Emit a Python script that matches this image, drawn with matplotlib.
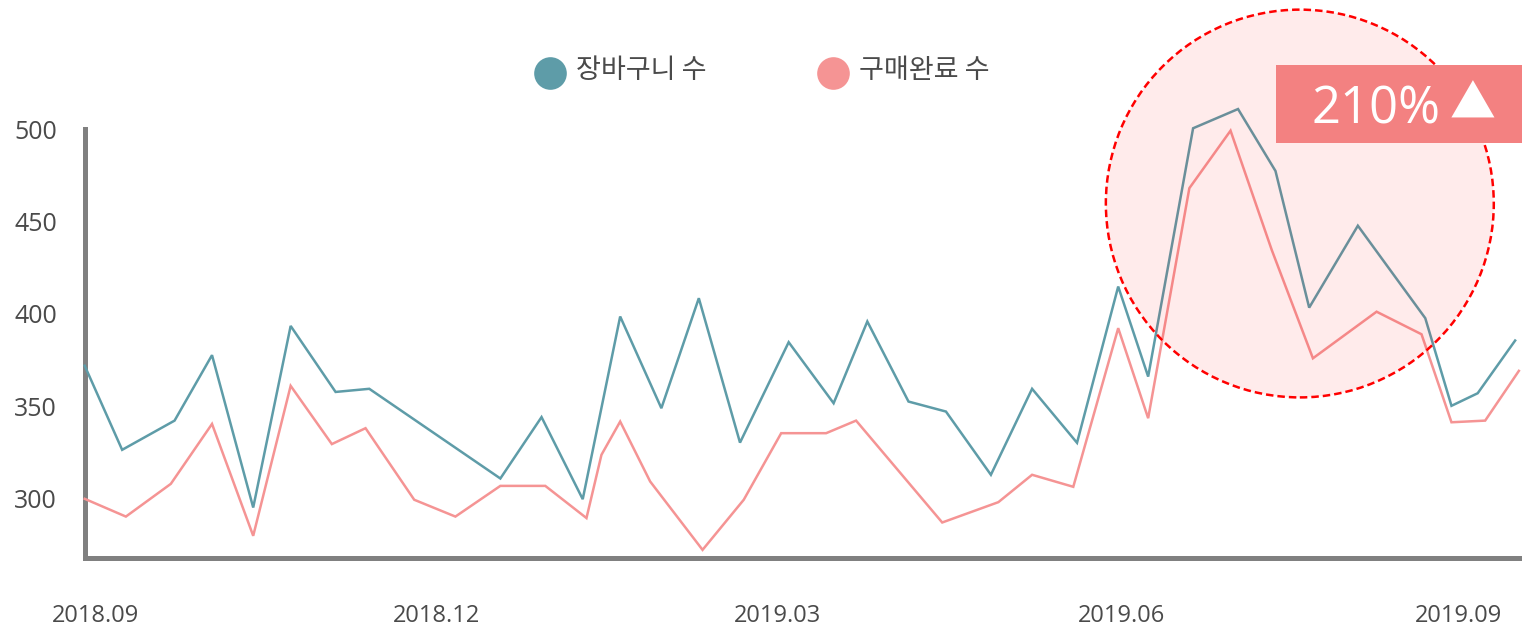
import numpy as np
import matplotlib
matplotlib.use('Agg')
import matplotlib.pyplot as plt
import matplotlib.dates as mdates
from matplotlib.patches import Ellipse, Rectangle
from matplotlib.lines import Line2D

plt.rcParams['font.family'] = ['Open Sans', 'Noto Sans CJK KR', 'DejaVu Sans']

# ---------------- data ----------------
series_names = ['장바구니 수', '구매완료 수']

cart_dates = ['2018-08-29', '2018-09-08', '2018-09-22', '2018-10-02', '2018-10-13',
              '2018-10-23', '2018-11-04', '2018-11-13', '2018-12-18', '2018-12-29',
              '2019-01-09', '2019-01-19', '2019-01-30', '2019-02-09', '2019-02-20',
              '2019-03-05', '2019-03-17', '2019-03-26', '2019-04-06', '2019-04-16',
              '2019-04-28', '2019-05-09', '2019-05-21', '2019-06-01', '2019-06-09',
              '2019-06-21', '2019-07-03', '2019-07-13', '2019-07-22', '2019-08-04',
              '2019-08-22', '2019-08-29', '2019-09-05', '2019-09-15']
cart_values = [372, 326.5, 342.3, 377.7, 295.3, 393.5, 357.8, 359.5, 311, 344.2,
               299.8, 398.6, 349, 408.5, 330.4, 384.7, 351.7, 395.9, 352.6, 347.2,
               313, 359.5, 330.3, 414.8, 366.1, 500.4, 510.8, 477.3, 403.4, 447.7,
               397.7, 350.3, 357.1, 385.6]

purchase_dates = ['2018-08-29', '2018-09-09', '2018-09-21', '2018-10-02', '2018-10-13',
                  '2018-10-23', '2018-11-03', '2018-11-12', '2018-11-25', '2018-12-06',
                  '2018-12-18', '2018-12-30', '2019-01-10', '2019-01-14', '2019-01-19',
                  '2019-01-27', '2019-02-10', '2019-02-21', '2019-03-03', '2019-03-15',
                  '2019-03-23', '2019-04-15', '2019-04-30', '2019-05-09', '2019-05-20',
                  '2019-06-01', '2019-06-09', '2019-06-20', '2019-07-01', '2019-07-12',
                  '2019-07-23', '2019-08-09', '2019-08-21', '2019-08-29', '2019-09-07',
                  '2019-09-16']
purchase_values = [300, 290.4, 308.1, 340.5, 280, 361.1, 329.6, 338.2, 299.5, 290.4,
                   307, 307, 289.6, 323.8, 341.8, 309.4, 272.4, 299.5, 335.5, 335.5,
                   342.3, 287.2, 298.2, 313, 306.5, 392.3, 343.6, 468, 499.1, 434.6,
                   376, 401.2, 389, 341.4, 342.3, 369.2]

tick_dates = ['2018-09-01', '2018-12-01', '2019-03-02', '2019-06-02', '2019-08-31']
tick_labels = ['2018.09', '2018.12', '2019.03', '2019.06', '2019.09']
y_ticks = [300, 350, 400, 450, 500]
badge_value = '210%'
badge_arrow = '▲'

# ---------------- style ----------------
TEAL = '#5e9ca8'
PINK = '#f59494'
BADGE = '#f38181'
SPINE = '#808080'
TXT = '#4a4a4a'

W, H = 1522, 628
fig = plt.figure(figsize=(W / 100, H / 100), dpi=100)
ax = fig.add_axes([84.7 / W, 1 - 558 / H, 1 - 84.7 / W, (558 - 129) / H])

cd = np.array(cart_dates, dtype='datetime64[D]')
pdt = np.array(purchase_dates, dtype='datetime64[D]')

ax.plot(cd, cart_values, color=TEAL, lw=1.8, clip_on=False,
        solid_joinstyle='miter', zorder=3)
ax.plot(pdt, purchase_values, color=PINK, lw=1.8, clip_on=False,
        solid_joinstyle='miter', zorder=3)

ax.set_xlim(np.datetime64('2018-08-29T00:00'), np.datetime64('2019-09-16T20:00'))
ax.set_ylim(268, 500)

ax.set_xticks(np.array(tick_dates, dtype='datetime64[D]'))
ax.set_xticklabels(tick_labels)
ax.set_yticks(y_ticks)
ax.set_yticklabels([str(v) for v in y_ticks])
ax.tick_params(axis='both', length=0, colors=TXT)
ax.tick_params(axis='y', labelsize=18, pad=20)
ax.tick_params(axis='x', labelsize=17, pad=33)

for s in ['top', 'right']:
    ax.spines[s].set_visible(False)
for s in ['left', 'bottom']:
    ax.spines[s].set_color(SPINE)
    ax.spines[s].set_linewidth(3.6)
ax.patch.set_visible(False)

# highlight circle (data coords)
cx = mdates.date2num(np.datetime64('2019-07-19T12:00'))
ell = Ellipse((cx, 459.7), width=103.6, height=209.7,
              facecolor=(1, 0, 0, 0.08), edgecolor='red', lw=1.8,
              linestyle=(0, (3, 1.6)), clip_on=False, zorder=4)
ax.add_patch(ell)

# badge
fig.add_artist(Rectangle((1276 / W, 1 - 143 / H), (W - 1276) / W, 78 / H,
                         transform=fig.transFigure, facecolor=BADGE,
                         edgecolor='none', zorder=5))
fig.text(1312 / W, 1 - 123 / H, badge_value, color='white', fontsize=36.5,
         ha='left', va='baseline', zorder=6, family=['Open Sans', 'DejaVu Sans'])
fig.text(1473 / W, 1 - 105.5 / H, badge_arrow, color='white', fontsize=33,
         ha='center', va='center', zorder=6,
         family=['Noto Sans CJK KR', 'DejaVu Sans'])

# legend
legend_items = [(550, TEAL, series_names[0]), (833, PINK, series_names[1])]
for x, col, name in legend_items:
    fig.add_artist(Line2D([x / W], [1 - 72.5 / H], marker='o', markersize=23.5,
                          markerfacecolor=col, markeredgecolor='none',
                          linestyle='none', transform=fig.transFigure))
    fig.text((x + 26) / W, 1 - 71 / H, name, color=TXT, fontsize=19.5,
             ha='left', va='center', fontweight='light',
             family=['Noto Sans CJK KR', 'DejaVu Sans'])

fig.savefig('out.png', dpi=100)
